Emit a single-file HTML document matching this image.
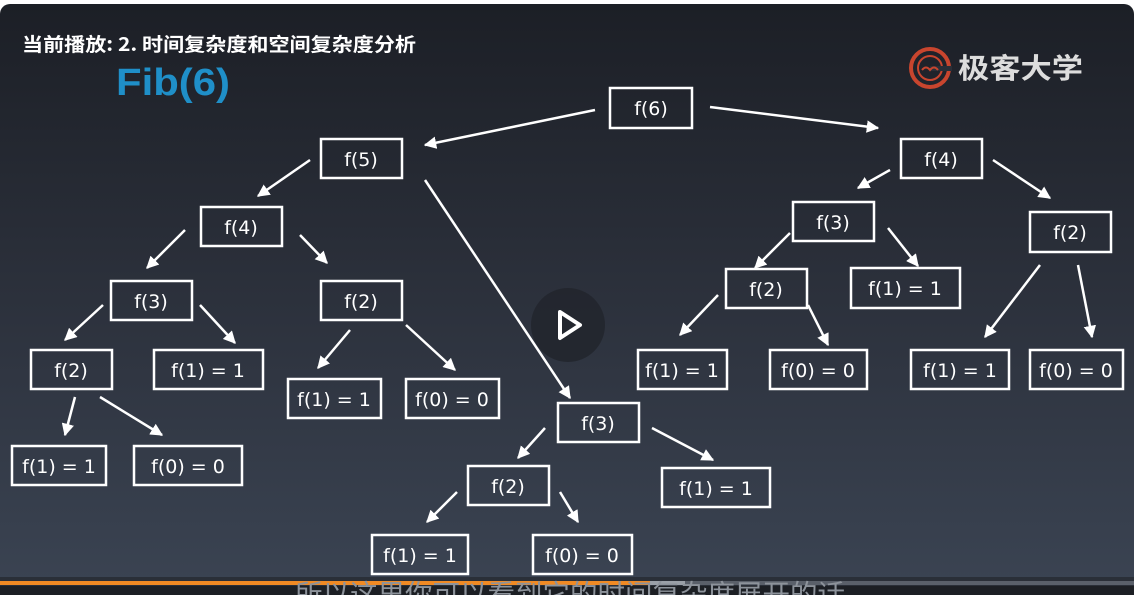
<!DOCTYPE html>
<html><head><meta charset="utf-8"><style>
html,body{margin:0;padding:0;width:1134px;height:595px;overflow:hidden;background:#fff}
svg{display:block}
</style></head><body>
<svg width="1134" height="595" viewBox="0 0 1134 595" xmlns="http://www.w3.org/2000/svg">
<defs>
<linearGradient id="bg" x1="0" y1="0" x2="0" y2="1">
<stop offset="0" stop-color="#1c1f26"/><stop offset="0.5" stop-color="#2c313c"/><stop offset="1" stop-color="#3b4453"/>
</linearGradient>
<marker id="ah" viewBox="0 0 10 10" refX="9" refY="5" markerWidth="5" markerHeight="5" orient="auto" markerUnits="strokeWidth">
<path d="M0,0 L10,5 L0,10 z" fill="#fff"/>
</marker>
</defs>
<rect x="0" y="4" width="1134" height="591" rx="10" fill="url(#bg)"/>
<text x="22" y="51" font-family="'Noto Sans CJK SC',sans-serif" font-size="19" font-weight="bold" fill="#fff" textLength="394" lengthAdjust="spacingAndGlyphs">当前播放: 2. 时间复杂度和空间复杂度分析</text>
<text x="116" y="95" font-family="Liberation Sans,sans-serif" font-size="38" font-weight="bold" fill="#1f8fc8" textLength="114" lengthAdjust="spacingAndGlyphs">Fib(6)</text>
<g transform="translate(930,68)">
<circle r="19" fill="none" stroke="#c8452e" stroke-width="4"/>
<circle r="12" fill="none" stroke="#c8452e" stroke-width="2"/>
<rect x="0" y="-2" width="22" height="5" fill="#2a2e37"/>
<path d="M-8,2 q4,-5 8,0 q4,-5 8,0" stroke="#c8452e" stroke-width="2" fill="none"/>
</g>
<text x="958" y="78" font-family="'Noto Sans CJK SC',sans-serif" font-size="28" font-weight="bold" fill="#ddd" textLength="125" lengthAdjust="spacingAndGlyphs">极客大学</text>
<g stroke="#fff" stroke-width="2.5" marker-end="url(#ah)">
<line x1="595" y1="110" x2="425" y2="145"/><line x1="710" y1="107" x2="878" y2="128"/>
<line x1="310" y1="160" x2="258" y2="196"/><line x1="425" y1="180" x2="570" y2="398"/>
<line x1="185" y1="230" x2="147" y2="268"/><line x1="300" y1="235" x2="327" y2="263"/>
<line x1="103" y1="305" x2="65" y2="340"/><line x1="200" y1="305" x2="235" y2="343"/>
<line x1="75" y1="397" x2="65" y2="435"/><line x1="100" y1="397" x2="162" y2="435"/>
<line x1="350" y1="330" x2="318" y2="368"/><line x1="406" y1="325" x2="455" y2="370"/>
<line x1="890" y1="170" x2="858" y2="188"/><line x1="993" y1="160" x2="1050" y2="198"/>
<line x1="790" y1="233" x2="755" y2="268"/><line x1="888" y1="228" x2="918" y2="266"/>
<line x1="718" y1="295" x2="680" y2="335"/><line x1="808" y1="305" x2="828" y2="345"/>
<line x1="1040" y1="265" x2="985" y2="337"/><line x1="1078" y1="265" x2="1092" y2="337"/>
<line x1="545" y1="428" x2="518" y2="458"/><line x1="652" y1="428" x2="713" y2="460"/>
<line x1="457" y1="492" x2="427" y2="522"/><line x1="560" y1="492" x2="578" y2="522"/>
</g>
<circle cx="568" cy="325" r="37" fill="#22262e" opacity="0.9"/>
<path d="M560,312 L580,325 L560,338 Z" fill="none" stroke="#fff" stroke-width="4" stroke-linejoin="round"/>
<g fill="none" stroke="#fff" stroke-width="2.5">
<rect x="610" y="88" width="82" height="40"/>
<rect x="321" y="139" width="81" height="39"/>
<rect x="901" y="139" width="81" height="39"/>
<rect x="201" y="207" width="81" height="39"/>
<rect x="793" y="202" width="81" height="39"/>
<rect x="1030" y="212" width="81" height="40"/>
<rect x="111" y="281" width="81" height="39"/>
<rect x="321" y="281" width="81" height="39"/>
<rect x="726" y="269" width="81" height="39"/>
<rect x="851" y="268" width="109" height="40"/>
<rect x="31" y="350" width="81" height="39"/>
<rect x="154" y="350" width="109" height="39"/>
<rect x="288" y="379" width="93" height="39"/>
<rect x="406" y="379" width="93" height="39"/>
<rect x="638" y="350" width="89" height="39"/>
<rect x="770" y="350" width="97" height="39"/>
<rect x="911" y="350" width="98" height="39"/>
<rect x="1030" y="350" width="93" height="39"/>
<rect x="558" y="403" width="81" height="39"/>
<rect x="662" y="468" width="108" height="39"/>
<rect x="12" y="446" width="94" height="39"/>
<rect x="134" y="446" width="108" height="39"/>
<rect x="468" y="466" width="81" height="39"/>
<rect x="372" y="535" width="96" height="39"/>
<rect x="533" y="535" width="99" height="39"/>
</g>
<g fill="#fff" font-family="'DejaVu Sans',sans-serif" font-size="19" text-anchor="middle">
<text x="651" y="115">f(6)</text>
<text x="361" y="166">f(5)</text>
<text x="941" y="166">f(4)</text>
<text x="241" y="234">f(4)</text>
<text x="833" y="229">f(3)</text>
<text x="1070" y="239">f(2)</text>
<text x="151" y="308">f(3)</text>
<text x="361" y="308">f(2)</text>
<text x="766" y="296">f(2)</text>
<text x="905" y="295">f(1) = 1</text>
<text x="71" y="377">f(2)</text>
<text x="208" y="377">f(1) = 1</text>
<text x="334" y="406">f(1) = 1</text>
<text x="452" y="406">f(0) = 0</text>
<text x="682" y="377">f(1) = 1</text>
<text x="818" y="377">f(0) = 0</text>
<text x="960" y="377">f(1) = 1</text>
<text x="1076" y="377">f(0) = 0</text>
<text x="598" y="430">f(3)</text>
<text x="716" y="495">f(1) = 1</text>
<text x="59" y="473">f(1) = 1</text>
<text x="188" y="473">f(0) = 0</text>
<text x="508" y="493">f(2)</text>
<text x="420" y="562">f(1) = 1</text>
<text x="582" y="562">f(0) = 0</text>
</g>
<rect x="0" y="577" width="1134" height="18" fill="#2a2f38"/>
<rect x="0" y="581" width="1134" height="4" fill="#5a606a"/>
<rect x="0" y="581" width="650" height="4" fill="#f08a24"/>
<rect x="650" y="581" width="35" height="4" fill="#9aa0a8"/>
<rect x="0" y="586" width="1134" height="9" fill="#1c1f24"/>
<text x="295" y="604" font-family="'Noto Sans CJK SC',sans-serif" font-size="27" fill="#8d939b" textLength="550" lengthAdjust="spacingAndGlyphs">所以这里你可以看到它的时间复杂度展开的话</text>
</svg>
</body></html>
